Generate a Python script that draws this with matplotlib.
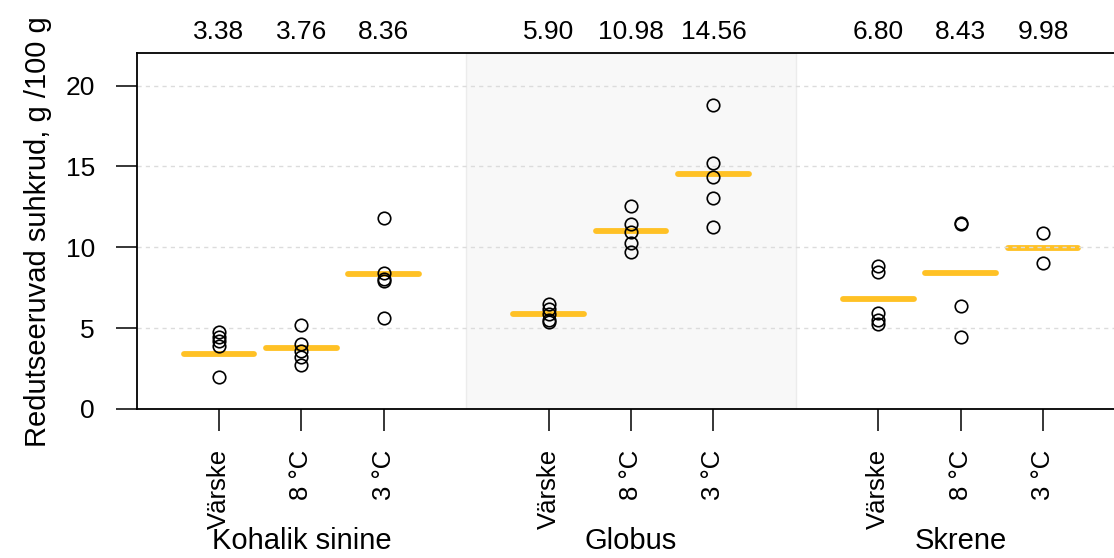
import numpy as np
import matplotlib
matplotlib.use("Agg")
import matplotlib.pyplot as plt

plt.rcParams["font.family"] = ["Liberation Sans", "DejaVu Sans"]

# varieties and storage conditions
groups = ["Kohalik sinine", "Globus", "Skrene"]
storage = ["Värske", "8 °C", "3 °C"]

kohalik_varske = [4.78, 4.45, 4.18, 3.87, 2.0]
kohalik_8c = [5.2, 4.05, 3.6, 3.2, 2.75]
kohalik_3c = [11.8, 8.4, 8.05, 7.9, 5.6]
globus_varske = [6.5, 6.2, 5.9, 5.5, 5.4]
globus_8c = [12.55, 11.44, 10.97, 10.25, 9.73]
globus_3c = [18.8, 15.23, 14.33, 13.03, 11.24]
skrene_varske = [8.85, 8.45, 5.95, 5.5, 5.25]
skrene_8c = [11.5, 11.45, 6.35, 4.45]
skrene_3c = [10.9, 9.05]

# group means shown on top
means = [3.38, 3.76, 8.36, 5.90, 10.98, 14.56, 6.80, 8.43, 9.98]

samples = [kohalik_varske, kohalik_8c, kohalik_3c,
           globus_varske, globus_8c, globus_3c,
           skrene_varske, skrene_8c, skrene_3c]
positions = [1, 2, 3, 5, 6, 7, 9, 10, 11]
group_centers = [2, 6, 10]

fig = plt.figure(figsize=(11.14, 5.58), dpi=100)
ax = fig.add_axes([136.6 / 1114, 149 / 558, 12 * 82.4 / 1114, 355.7 / 558])

ax.axvspan(4, 8, facecolor="#f8f8f8", edgecolor="#ececec", lw=1, zorder=0)

for pos, m in zip(positions, means):
    ax.plot([pos - 0.43, pos + 0.43], [m, m], color="#FFC125", lw=4.2,
            solid_capstyle="round", zorder=2)

for y in [5, 10, 15, 20]:
    ax.axhline(y, color="#dcdcdc", lw=1, ls=(0, (3, 3)), zorder=2.5)

for pos, vals in zip(positions, samples):
    ax.plot([pos] * len(vals), vals, "o", mfc="none", mec="black",
            ms=9, mew=1.2, zorder=3)

ax.set_xlim(0, 12)
ax.set_ylim(0, 22)
ax.set_yticks([0, 5, 10, 15, 20])
ax.set_xticks(positions)
ax.set_xticklabels(storage * 3, rotation=90, va="top")
ax.tick_params(axis="x", length=16, width=1.1, pad=13, labelsize=18.5)
ax.tick_params(axis="y", length=15, width=1.1, pad=15, labelsize=19)

for sp in ["left", "top", "bottom"]:
    ax.spines[sp].set_linewidth(1.3)
ax.spines["right"].set_visible(False)

ax.set_ylabel("Redutseeruvad suhkrud, g /100 g", fontsize=21, labelpad=10)

for pos, m in zip(positions, means):
    ax.text(pos, 1.06, f"{m:.2f}", transform=ax.get_xaxis_transform(),
            ha="center", va="center", fontsize=19)

# group names sit right at the bottom edge, as in the reference
for c, g in zip(group_centers, groups):
    ax.text(c, -0.37, g, transform=ax.get_xaxis_transform(),
            ha="center", va="center", fontsize=21)

fig.savefig("out.png", dpi=100)
